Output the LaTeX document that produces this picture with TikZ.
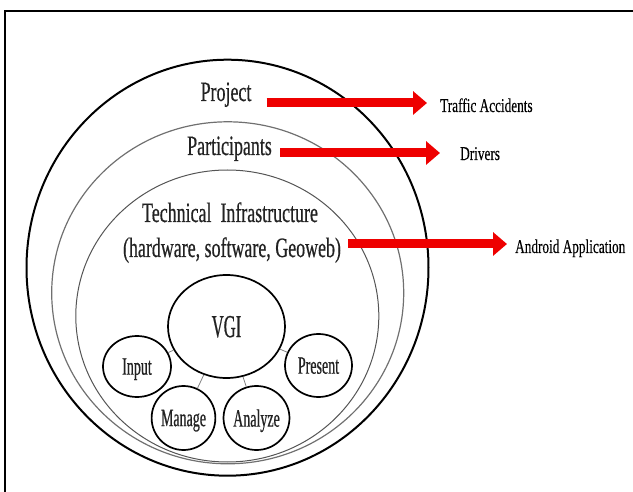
\documentclass[tikz,border=0pt]{standalone}
\usepackage{fontspec}
\setmainfont{Liberation Serif}
% narrow serif faces for the diagram labels
\newfontfamily\narrowserif[FakeStretch=0.64,FakeBold=0.5]{Liberation Serif}
\newfontfamily\tightserif[FakeStretch=0.56,FakeBold=0.5]{Liberation Serif}
\newfontfamily\vgiserif[FakeStretch=0.52,FakeBold=0.5]{Liberation Serif}
\newfontfamily\sideserif[FakeStretch=0.68,FakeBold=0.3]{Liberation Serif}
\usetikzlibrary{shapes.geometric,arrows.meta,calc}
\definecolor{arrowred}{HTML}{EE0000}
\definecolor{ringgrey}{HTML}{707070}
\definecolor{innergrey}{HTML}{555555}
\definecolor{inkgrey}{HTML}{222222}
\begin{document}
\begin{tikzpicture}[x=1pt,y=-1pt,
  ring/.style={ellipse,draw,inner sep=0pt},
  bubble/.style={ellipse,draw=black,line width=1.7pt,inner sep=0pt,text depth=0pt,text=inkgrey,
                 font=\tightserif\fontsize{25}{28}\selectfont},
  bigtext/.style={inner sep=0pt,anchor=base,text=inkgrey,font=\narrowserif\fontsize{28}{32}\selectfont},
  sidetext/.style={inner sep=0pt,anchor=base west,font=\sideserif\fontsize{19.5}{22}\selectfont},
  link/.style={draw=gray,line width=0.8pt},
  bigarrow/.style={draw=arrowred,line width=9pt,-{Triangle[length=14pt,width=23pt]}},
  frameline/.style={draw=black,line width=1.3pt}]
\useasboundingbox (0,0) rectangle (633,492);

% open frame along the top and left
\coordinate (fbl) at (5,492);
\coordinate (ftl) at (5,11);
\coordinate (ftr) at (633,11);
\draw[frameline] (fbl) -- (ftl) -- (ftr);

% nested rings
\node[ring,draw=black,line width=2pt,minimum width=402pt,minimum height=416pt] (project) at (227.5,267.7) {};
\node[ring,draw=ringgrey,line width=1.2pt,minimum width=352pt,minimum height=342pt] (participants) at (227.7,292.8) {};
\node[ring,draw=innergrey,line width=1pt,minimum width=303pt,minimum height=292pt] (infra) at (227.3,316) {};

% ring titles
\node[bigtext] (tproj) at (226,101) {Project};
\node[bigtext] (tpart) at (229.5,155) {Participants};
\node[bigtext] (tinfra) at (230,222) {Technical\ \ Infrastructure};
\node[bigtext] (thw) at (232,257) {(hardware, software, Geoweb)};

% VGI and its activities
\node[bubble,minimum width=117pt,minimum height=103pt,font=\vgiserif\fontsize{32}{36}\selectfont] (vgi) at (226.5,326.5) {VGI};
\node[bubble,minimum width=68pt,minimum height=61pt] (input) at (137,366.5) {Input};
\node[bubble,minimum width=67pt,minimum height=63pt] (present) at (318.5,365.5) {Present};
\node[bubble,minimum width=57pt,minimum height=64pt] (manage) at (183.5,418) {Manage};
\node[bubble,minimum width=57pt,minimum height=64pt] (analyze) at (256.5,418) {Analyze};

\draw[link] (vgi) -- (input);
\draw[link] (vgi) -- (present);
\draw[link] (vgi) -- (manage);
\draw[link] (vgi) -- (analyze);

% side labels
\node[sidetext] (traffic) at (440,112) {Traffic Accidents};
\node[sidetext] (drivers) at (460,160) {Drivers};
\node[sidetext] (android) at (515,253) {Android Application};

% red arrows
\draw[bigarrow] ($(tproj.base east)+(15,2)$) -- ($(tproj.base east -| traffic.base west)+(-13,2)$);
\draw[bigarrow] ($(tpart.base east)+(8,-2)$) -- ($(tpart.base east -| drivers.base west)+(-20,-2)$);
\draw[bigarrow] ($(thw.base east)+(7,-13)$) -- ($(thw.base east -| android.base west)+(-8,-13)$);
\end{tikzpicture}
\end{document}
